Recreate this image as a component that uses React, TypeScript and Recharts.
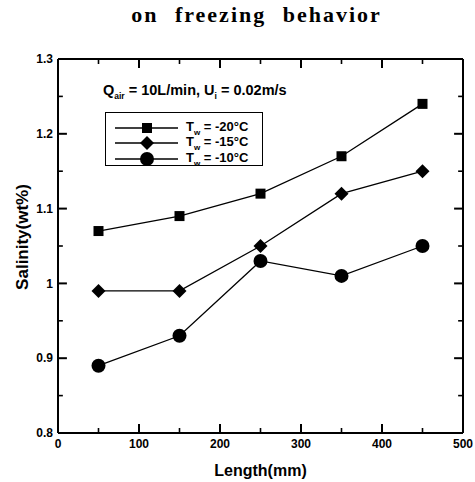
import React from "react";
import { LineChart, Line, XAxis, YAxis, ReferenceLine } from "recharts";

// channel length (mm) at which salinity was sampled
const LENGTH = [50, 150, 250, 350, 450];
const SAL_M20 = [1.07, 1.09, 1.12, 1.17, 1.24];
const SAL_M15 = [0.99, 0.99, 1.05, 1.12, 1.15];
const SAL_M10 = [0.89, 0.93, 1.03, 1.01, 1.05];

const X_MAJOR = [0, 100, 200, 300, 400, 500];
const X_MINOR = [50, 150, 250, 350, 450];
const Y_MAJOR = [0.8, 0.9, 1, 1.1, 1.2, 1.3];
const Y_MINOR = [0.85, 0.95, 1.05, 1.15, 1.25];

const SERIES = [
  { key: "m20", temp: "-20", shape: "square" },
  { key: "m15", temp: "-15", shape: "diamond" },
  { key: "m10", temp: "-10", shape: "circle" },
];

const data = LENGTH.map((x, i) => ({
  x,
  m20: SAL_M20[i],
  m15: SAL_M15[i],
  m10: SAL_M10[i],
}));

const FONT = "'Liberation Sans', Arial, sans-serif";
const AXIS_LINE = { stroke: "#000", strokeWidth: 2 };
const X_DOMAIN = [0, 500];
const Y_DOMAIN = [0.8, 1.3];

// inward tick marks, lengths in axis units (~9px major, ~5px minor)
const X_TICK_LEN = { major: 0.012, minor: 0.0067 };
const Y_TICK_LEN = { major: 11, minor: 6 };

const CSS = `
.recharts-cartesian-axis-tick-value { font-family: ${FONT}; font-size: 12px; font-weight: bold; fill: #000; }
`;

function Marker({ cx, cy, shape }: { cx: number; cy: number; shape: string }) {
  if (shape === "square")
    return <rect x={cx - 5} y={cy - 5} width={10} height={10} fill="#000" />;
  if (shape === "diamond")
    return (
      <polygon
        points={`${cx},${cy - 7} ${cx + 7},${cy} ${cx},${cy + 7} ${cx - 7},${cy}`}
        fill="#000"
      />
    );
  return <circle cx={cx} cy={cy} r={7} fill="#000" />;
}

function YLabel({ viewBox }: any) {
  const x = viewBox.x + 22;
  const y = viewBox.y + viewBox.height / 2 - 9;
  return (
    <text
      x={x}
      y={y}
      transform={`rotate(-90 ${x} ${y})`}
      textAnchor="middle"
      dominantBaseline="central"
      fill="#000"
      fontFamily={FONT}
      fontSize={17}
      fontWeight="bold"
    >
      Salinity(wt%)
    </text>
  );
}

function LegendBox() {
  return (
    <div style={{ fontFamily: FONT, fontWeight: "bold", color: "#000" }}>
      <div style={{ fontSize: 14.5, whiteSpace: "nowrap", height: 30, lineHeight: "16px" }}>
        Q<sub style={{ fontSize: 8.5 }}>air</sub> = 10L/min, U<sub style={{ fontSize: 8.5 }}>i</sub> = 0.02m/s
      </div>
      <div
        style={{
          marginLeft: 2,
          width: 158,
          height: 54,
          border: "1.5px solid #000",
          paddingTop: 7,
          boxSizing: "border-box",
        }}
      >
        {SERIES.map((s) => (
          <div key={s.key} style={{ display: "flex", alignItems: "center", height: 15.5 }}>
            <svg width={80} height={16} style={{ flex: "none" }}>
              <line x1={9} x2={72} y1={8} y2={8} stroke="#000" strokeWidth={1.3} />
              <Marker cx={41} cy={8} shape={s.shape} />
            </svg>
            <span style={{ fontSize: 13, whiteSpace: "nowrap" }}>
              T<sub style={{ fontSize: 8 }}>w</sub> = {s.temp}°C
            </span>
          </div>
        ))}
      </div>
    </div>
  );
}

function tickSegments() {
  const segs: { id: string; seg: { x: number; y: number }[]; w: number }[] = [];
  const [x0, x1] = X_DOMAIN;
  const [y0, y1] = Y_DOMAIN;
  const addX = (vals: number[], len: number, w: number, kind: string) =>
    vals.forEach((v) => {
      segs.push({ id: `xb-${kind}-${v}`, seg: [{ x: v, y: y0 }, { x: v, y: y0 + len }], w });
      segs.push({ id: `xt-${kind}-${v}`, seg: [{ x: v, y: y1 }, { x: v, y: y1 - len }], w });
    });
  const addY = (vals: number[], len: number, w: number, kind: string) =>
    vals.forEach((v) => {
      segs.push({ id: `yl-${kind}-${v}`, seg: [{ x: x0, y: v }, { x: x0 + len, y: v }], w });
      segs.push({ id: `yr-${kind}-${v}`, seg: [{ x: x1, y: v }, { x: x1 - len, y: v }], w });
    });
  addX(X_MAJOR, X_TICK_LEN.major, 2, "M");
  addX(X_MINOR, X_TICK_LEN.minor, 1.6, "m");
  addY(Y_MAJOR, Y_TICK_LEN.major, 2, "M");
  addY(Y_MINOR, Y_TICK_LEN.minor, 1.6, "m");
  return segs;
}

export default function App() {
  return (
    <div style={{ position: "absolute", left: 0, top: 0, width: 475, height: 482, background: "#fff" }}>
      <style>{CSS}</style>
      <LineChart width={475} height={482} data={data} margin={{ top: 59, right: 12, left: 0, bottom: 0 }}>
        <XAxis
          xAxisId="b"
          dataKey="x"
          type="number"
          domain={X_DOMAIN}
          ticks={X_MAJOR}
          interval={0}
          height={49}
          tickSize={-9}
          tickMargin={15}
          stroke="#000"
          axisLine={AXIS_LINE}
          tickLine={false}
          label={{
            value: "Length(mm)",
            position: "insideBottom",
            offset: 6,
            fill: "#000",
            fontFamily: FONT,
            fontSize: 16,
            fontWeight: "bold",
          }}
        />
        <YAxis
          yAxisId="l"
          type="number"
          domain={Y_DOMAIN}
          ticks={Y_MAJOR}
          interval={0}
          width={58}
          tickSize={-9}
          tickMargin={14}
          stroke="#000"
          axisLine={AXIS_LINE}
          tickLine={false}
          label={<YLabel />}
        />
        {/* frame: top and right edges */}
        <ReferenceLine xAxisId="b" yAxisId="l" y={Y_DOMAIN[1]} stroke="#000" strokeWidth={2} />
        <ReferenceLine xAxisId="b" yAxisId="l" x={X_DOMAIN[1]} stroke="#000" strokeWidth={2} />
        {tickSegments().map((t) => (
          <ReferenceLine
            key={t.id}
            xAxisId="b"
            yAxisId="l"
            segment={t.seg}
            stroke="#000"
            strokeWidth={t.w}
          />
        ))}
        {SERIES.map((s) => (
          <Line
            key={s.key}
            xAxisId="b"
            yAxisId="l"
            dataKey={s.key}
            stroke="#000"
            strokeWidth={1.3}
            isAnimationActive={false}
            dot={(p: any) => <Marker key={`${s.key}-${p.index}`} cx={p.cx} cy={p.cy} shape={s.shape} />}
          />
        ))}
      </LineChart>
      <div
        style={{
          position: "absolute",
          left: 0,
          width: 475,
          top: 2,
          textAlign: "center",
          paddingLeft: 38,
          boxSizing: "border-box",
          fontFamily: "'Liberation Serif', 'Times New Roman', serif",
          fontWeight: "bold",
          fontSize: 22,
          letterSpacing: 2,
          wordSpacing: 9,
          color: "#000",
        }}
      >
        on freezing behavior
      </div>
      <div style={{ position: "absolute", left: 103, top: 82 }}>
        <LegendBox />
      </div>
    </div>
  );
}
